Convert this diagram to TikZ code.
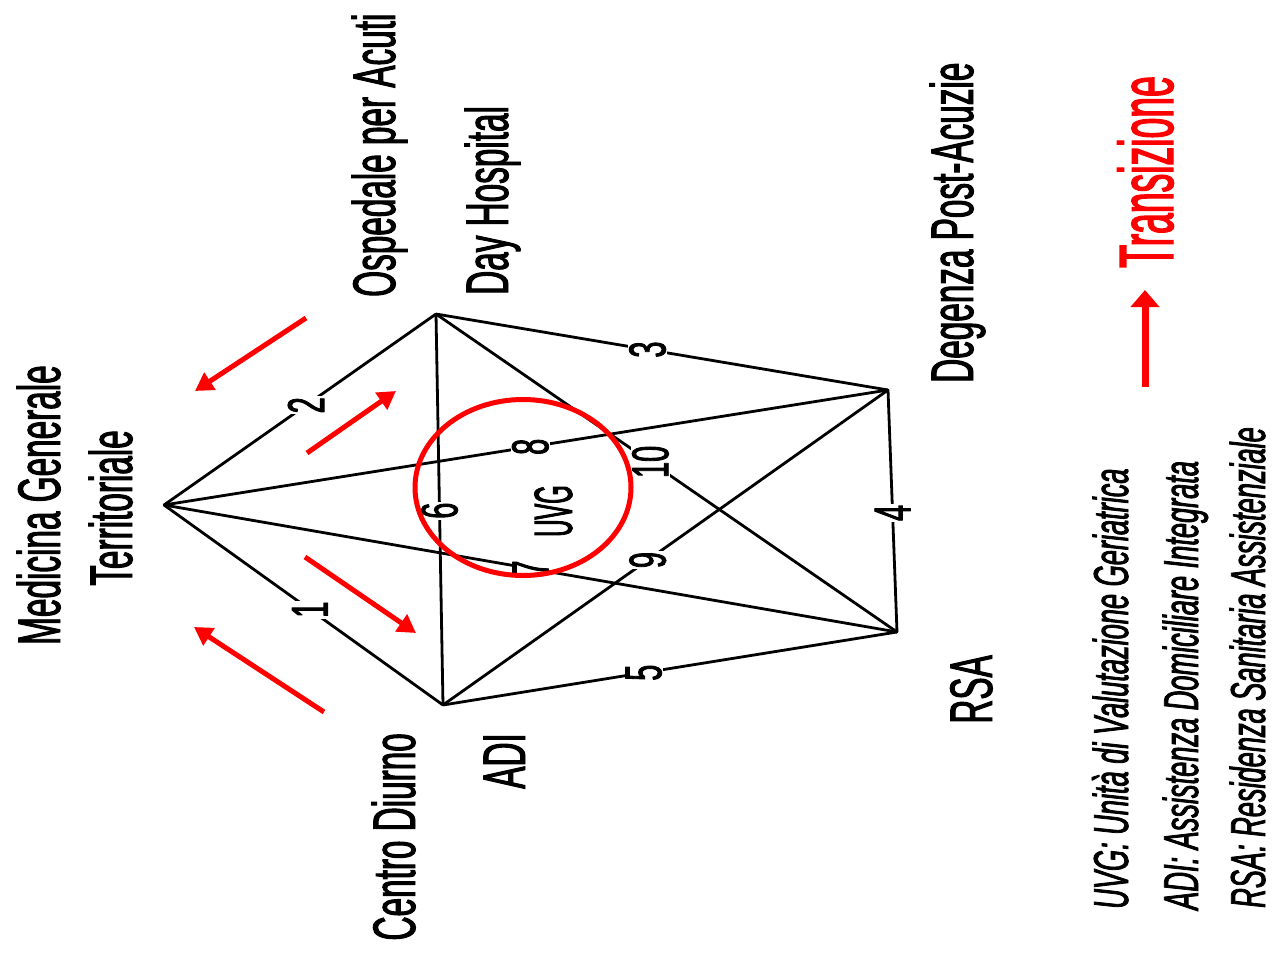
\documentclass[tikz,border=0pt]{standalone}
\usepackage{fontspec}
\newfontfamily\lbl[FakeStretch=0.555,FakeBold=1.6]{Liberation Sans}
\newfontfamily\trnf[FakeStretch=0.485,FakeBold=1.6]{Liberation Sans}
\newfontfamily\uvgf[FakeStretch=0.44,FakeBold=1.6]{Liberation Sans}
\usetikzlibrary{arrows.meta,shapes.geometric}
\begin{document}
\begin{tikzpicture}[x=1pt,y=-1pt,
  edge/.style={line width=2.8pt, black, line cap=round, line join=round},
  num/.style={fill=white, inner sep=1pt, rotate=90, font=\lbl\fontsize{52}{52}\selectfont},
  lab/.style={rotate=90, inner sep=0pt, font=\lbl\fontsize{60}{60}\selectfont},
  lgd/.style={rotate=90, inner sep=0pt, font=\lbl\itshape\fontsize{49}{49}\selectfont},
  trarrow/.style={red, line width=5pt, -{Triangle[length=18pt,width=20pt]}},
  vtx/.style={inner sep=0pt, minimum size=0pt},
]
\useasboundingbox (0,0) rectangle (1278,956);
\fill[white] (0,0) rectangle (1278,956);

% vertices
\node[vtx] (MG)  at (164,505) {};
\node[vtx] (OA)  at (436,314) {};
\node[vtx] (ADI) at (443,705) {};
\node[vtx] (DPA) at (888,390) {};
\node[vtx] (RSA) at (897,632) {};

% edges
\draw[edge] (MG) -- node[num,pos=0.523]{1} (ADI);
\draw[edge] (MG) -- node[num,pos=0.522]{2} (OA);
\draw[edge] (OA) -- node[num,pos=0.468]{3} (DPA);
\draw[edge] (DPA) -- node[num,pos=0.508]{4} (RSA);
\draw[edge] (ADI) -- node[num,pos=0.442]{5} (RSA);
\draw[edge] (OA) -- node[num,pos=0.503]{6} (ADI);
\draw[edge] (MG) -- node[num,pos=0.5]{7} (RSA);
\draw[edge] (MG) -- node[num,pos=0.506]{8} (DPA);
\draw[edge] (ADI) -- node[num,pos=0.46]{9} (DPA);
\draw[edge] (OA) -- node[num,pos=0.465]{10} (RSA);

% UVG ellipse
\node[ellipse, draw=red, line width=5pt, minimum width=216pt, minimum height=176pt, inner sep=0pt] (uvgc) at (523,487.5) {};
\node[rotate=90, inner sep=0pt, anchor=base, font=\uvgf\fontsize{54}{54}\selectfont] (uvg) at (572,511) {UVG};

% red transition arrows
\coordinate (a1s) at (306,318); \coordinate (a1e) at (195,391);
\coordinate (a2s) at (307,453); \coordinate (a2e) at (396,391);
\coordinate (a3s) at (305,557); \coordinate (a3e) at (416,633);
\coordinate (a4s) at (324,712); \coordinate (a4e) at (194,627);
\draw[trarrow] (a1s) -- (a1e);
\draw[trarrow] (a2s) -- (a2e);
\draw[trarrow] (a3s) -- (a3e);
\draw[trarrow] (a4s) -- (a4e);

% vertex labels
\node[lab, anchor=base] (mg1) at (60,505) {Medicina Generale};
\node[lab, anchor=base] (mg2) at (132,508) {Territoriale};
\node[lab, anchor=base west] (oa1) at (395,297) {Ospedale per Acuti};
\node[lab, anchor=base west] (oa2) at (508,295) {Day Hospital};
\node[lab, anchor=base west] (dpa1) at (973,383) {Degenza Post-Acuzie};
\node[lab, anchor=base east] (cd) at (415,733) {Centro Diurno};
\node[lab, anchor=base east] (adil) at (525,733) {ADI};
\node[lab, anchor=base east] (rsal) at (992,655) {RSA};

% legend
\node[rotate=90, anchor=base west, inner sep=0pt, text=red, font=\trnf\fontsize{77}{77}\selectfont] (trn) at (1173,268) {Transizione};
\coordinate (ls) at (1145,387);
\coordinate (lt) at (1145,290);
\draw[red, line width=7pt, -{Triangle[length=17pt,width=28pt]}] (ls) -- (lt);
\node[lgd, anchor=base west] (l1) at (1128,909) {UVG: Unità di Valutazione Geriatrica};
\node[lgd, anchor=base west] (l2) at (1198,910) {ADI: Assistenza Domiciliare Integrata};
\node[lgd, anchor=base west] (l3) at (1265,908) {RSA: Residenza Sanitaria Assistenziale};
\end{tikzpicture}
\end{document}
